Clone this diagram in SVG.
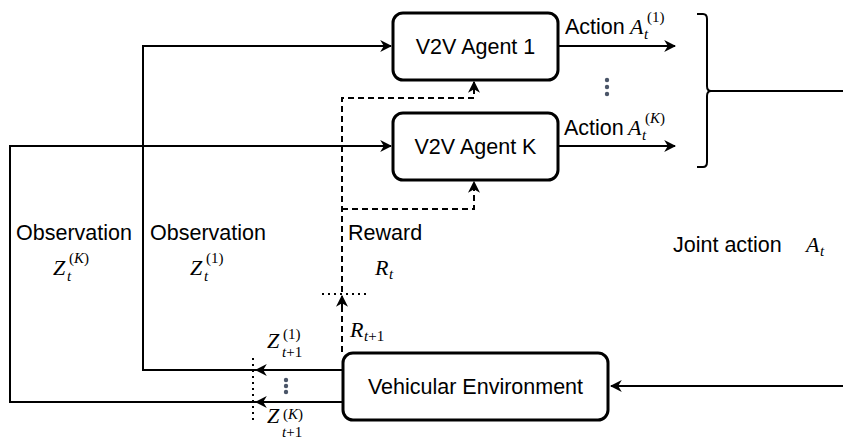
<svg xmlns="http://www.w3.org/2000/svg" width="843" height="441" viewBox="0 0 843 441">
<style>
.box{fill:#fff;stroke:#000;stroke-width:3}
.ln{fill:none;stroke:#000;stroke-width:2}
.dash{fill:none;stroke:#000;stroke-width:2;stroke-dasharray:6 4}
.dot{fill:none;stroke:#000;stroke-width:2;stroke-dasharray:2 4}
.t{font-family:"Liberation Sans",Arial,sans-serif;font-size:21.5px;fill:#000}
.m{font-family:"Liberation Serif","Times New Roman",serif;font-style:italic;font-size:22px;fill:#000}
.s{font-size:15px}
.sn{font-style:normal}
.vd{fill:#4a5568}
</style>
<defs>
<marker id="ahb" viewBox="0 0 10 10" refX="9" refY="5" markerWidth="12" markerHeight="12" markerUnits="userSpaceOnUse" orient="auto">
<path d="M0,0 L10,5 L0,10 L3,5 z" fill="#000"/>
</marker>
</defs>
<g id="connectors">
<path class="ln" d="M343,370 H143 V46 H391" marker-end="url(#ahb)"/>
<path class="ln" d="M343,402 H10 V146 H391" marker-end="url(#ahb)"/>
<path class="ln" d="M558,46 H675" marker-end="url(#ahb)"/>
<path class="ln" d="M558,146 H675" marker-end="url(#ahb)"/>
<path class="ln" d="M843,386 H611" marker-end="url(#ahb)"/>
<path class="dash" d="M342,352 V98 H474 V82" marker-end="url(#ahb)"/>
<path class="dash" d="M342,209 H474 V182" marker-end="url(#ahb)"/>
<path class="ln" d="M342,310 V296" marker-end="url(#ahb)"/>
<path class="dot" d="M322,294 H366"/>
<path class="dot" d="M253,358 V424"/>
<path class="ln" d="M290,370 H256" marker-end="url(#ahb)"/>
<path class="ln" d="M290,402 H256" marker-end="url(#ahb)"/>
<path class="ln" d="M697,14 H703 Q707,14 707,19 V86 Q707,91 711,91 H843 M711,91 Q707,91 707,96 V162 Q707,167 703,167 H697"/>
</g>
<g id="agent1">
<rect class="box" x="393" y="13" width="165" height="67" rx="10"/>
<text class="t" x="475.5" y="54" text-anchor="middle">V2V Agent 1</text>
</g>
<g id="agentK">
<rect class="box" x="393" y="113" width="165" height="67" rx="10"/>
<text class="t" x="475.5" y="154" text-anchor="middle">V2V Agent K</text>
</g>
<g id="env">
<rect class="box" x="343" y="353" width="265" height="67" rx="10"/>
<text class="t" x="475.5" y="394" text-anchor="middle">Vehicular Environment</text>
</g>
<g id="labels">
<text class="t" x="565" y="34">Action</text>
<text class="m"><tspan x="630" y="34">A</tspan><tspan class="s" x="644" y="39">t</tspan><tspan class="s sn" x="647" y="22">(1)</tspan></text>
<text class="t" x="564" y="135">Action</text>
<text class="m"><tspan x="628" y="135">A</tspan><tspan class="s" x="642" y="140">t</tspan><tspan class="s" x="645" y="123"><tspan class="sn">(</tspan>K<tspan class="sn">)</tspan></tspan></text>
<circle class="vd" cx="607" cy="80" r="2.2"/><circle class="vd" cx="607" cy="87" r="2.2"/><circle class="vd" cx="607" cy="94" r="2.2"/>
<text class="t" x="16" y="240">Observation</text>
<text class="m"><tspan x="53" y="275">Z</tspan><tspan class="s" x="67" y="281">t</tspan><tspan class="s" x="69" y="263"><tspan class="sn">(</tspan>K<tspan class="sn">)</tspan></tspan></text>
<text class="t" x="150" y="240">Observation</text>
<text class="m"><tspan x="190" y="275">Z</tspan><tspan class="s" x="204" y="281">t</tspan><tspan class="s sn" x="206" y="263">(1)</tspan></text>
<text class="t" x="348" y="240">Reward</text>
<text class="m"><tspan x="375" y="275">R</tspan><tspan class="s" x="389" y="279">t</tspan></text>
<text class="m"><tspan x="350" y="337">R</tspan><tspan class="s" x="364" y="341">t<tspan class="sn">+1</tspan></tspan></text>
<text class="m"><tspan x="267" y="348">Z</tspan><tspan class="s" x="282" y="357">t<tspan class="sn">+1</tspan></tspan><tspan class="s sn" x="283" y="339">(1)</tspan></text>
<text class="m"><tspan x="267" y="423">Z</tspan><tspan class="s" x="282" y="437">t<tspan class="sn">+1</tspan></tspan><tspan class="s" x="283" y="419"><tspan class="sn">(</tspan>K<tspan class="sn">)</tspan></tspan></text>
<circle class="vd" cx="286" cy="380" r="2.2"/><circle class="vd" cx="286" cy="386" r="2.2"/><circle class="vd" cx="286" cy="392" r="2.2"/>
<text class="t" x="673" y="252">Joint action</text>
<text class="m"><tspan x="806" y="252">A</tspan><tspan class="s" x="820" y="256">t</tspan></text>
</g>
</svg>
